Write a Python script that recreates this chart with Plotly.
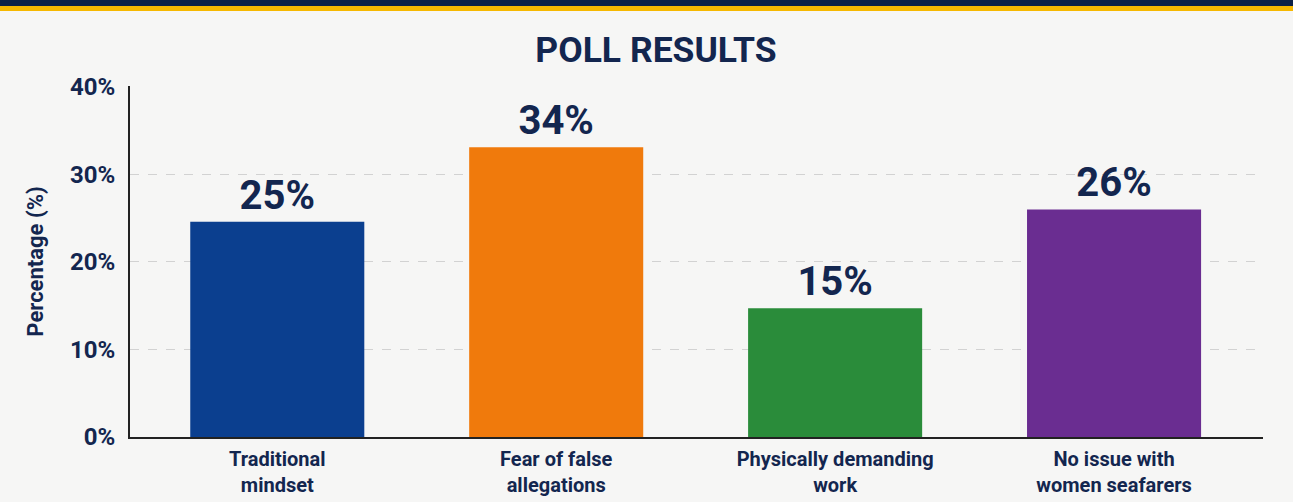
import plotly.graph_objects as go

categories = ["Traditional<br>mindset", "Fear of false<br>allegations",
              "Physically demanding<br>work", "No issue with<br>women seafarers"]
values = [24.6, 33.1, 14.7, 26.0]
value_labels = ["25%", "34%", "15%", "26%"]
bar_colors = ["#0b3f8f", "#f07a0c", "#2a8c3a", "#6a2d91"]
y_ticks = [0, 10, 20, 30, 40]
y_tick_labels = ["0%", "10%", "20%", "30%", "40%"]

NAVY = "#13264f"
W, H = 1293, 502
ML, MR, MT, MB = 130, 30, 86, 65
pw, ph = W - ML - MR, H - MT - MB

fig = go.Figure(go.Bar(
    x=categories, y=values, marker=dict(color=bar_colors, line=dict(width=0)),
    text=value_labels, textposition="outside", cliponaxis=False,
    textfont=dict(family="Roboto", size=40, color=NAVY, weight="bold"),
    hoverinfo="skip",
))

def py(pix):
    return 1 + (MT - pix) / ph

x0, x1 = -ML / pw, 1 + MR / pw
fig.add_shape(type="rect", xref="paper", yref="paper", x0=x0, x1=x1,
              y0=py(6), y1=py(0), fillcolor="#0c2146", line_width=0, layer="above")
fig.add_shape(type="rect", xref="paper", yref="paper", x0=x0, x1=x1,
              y0=py(11), y1=py(6), fillcolor="#f6b800", line_width=0, layer="above")

fig.update_layout(
    width=W, height=H,
    margin=dict(l=ML, r=MR, t=MT, b=MB, autoexpand=False),
    paper_bgcolor="#f6f6f5", plot_bgcolor="rgba(0,0,0,0)",
    bargap=0.376, showlegend=False,
    font=dict(family="Roboto", color=NAVY),
    title=dict(text="<b>POLL RESULTS</b>", x=656 / W, xref="container", xanchor="center",
               y=1 - 50 / H, yref="container", yanchor="middle",
               font=dict(family="Roboto", size=35.5, color=NAVY)),
)
fig.update_yaxes(
    range=[0, 40.1], tickvals=y_ticks, ticktext=y_tick_labels, automargin=False,
    tickfont=dict(family="Roboto", size=24, color=NAVY, weight="bold"),
    showgrid=True, gridcolor="#d2d2d2", griddash="dash", gridwidth=1,
    showline=True, linecolor="#222222", linewidth=2, zeroline=False,
    ticks="", ticklabelstandoff=8,
    title=dict(text="<b>Percentage (%)</b>", standoff=20,
               font=dict(family="Roboto", size=22, color=NAVY)),
)
fig.update_xaxes(
    range=[-0.528, 3.534], automargin=False,
    showline=True, linecolor="#222222", linewidth=2, showgrid=False,
    ticks="", ticklabelstandoff=3,
    tickfont=dict(family="Roboto", size=20, color=NAVY, weight="bold"),
)
fig.write_html("out.html", config={"displayModeBar": False},
               post_script="document.body.style.margin='0';")
